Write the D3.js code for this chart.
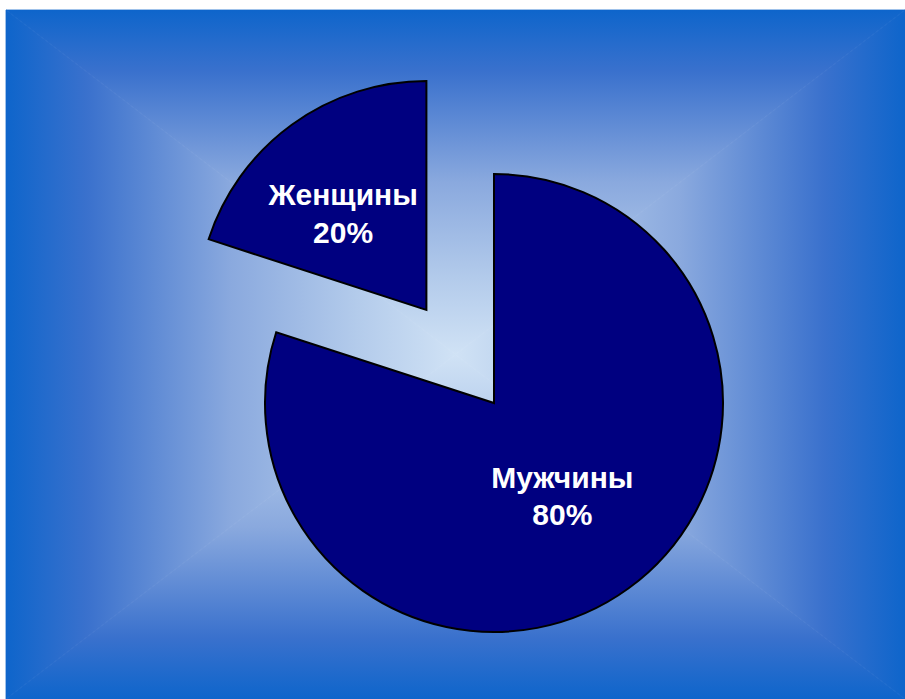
<!DOCTYPE html>
<html>
<head>
<meta charset="utf-8">
<script src="https://cdn.jsdelivr.net/npm/d3@7"></script>
<style>
  html, body { margin: 0; padding: 0; background: #ffffff; }
  svg { display: block; }
</style>
</head>
<body>
<svg id="chart" width="905" height="699"></svg>
<script>
// Gender split
const categories = ["Мужчины", "Женщины"];
const values = [80, 20];
const percentLabels = ["80%", "20%"];
const explodedIndex = 1;

const W = 905, H = 699;
const svg = d3.select("#chart");

// Panel with a rectangular (four-sided) gradient: blue edges, light centre
const panel = { x0: 6, y0: 10, x1: 905, y1: 699 };
const cx = (panel.x0 + panel.x1) / 2, cy = (panel.y0 + panel.y1) / 2;
const stops = [
  [0, "#0e65cb"], [0.18, "#3a71cd"], [0.5, "#8aa9de"], [0.78, "#b3cbeb"], [1, "#d0e2f5"]
];
const defs = svg.append("defs");
const sides = [
  { id: "gTop", pts: [[panel.x0, panel.y0], [panel.x1, panel.y0], [cx, cy]], g: [cx, panel.y0, cx, cy] },
  { id: "gBot", pts: [[panel.x0, panel.y1], [panel.x1, panel.y1], [cx, cy]], g: [cx, panel.y1, cx, cy] },
  { id: "gLeft", pts: [[panel.x0, panel.y0], [panel.x0, panel.y1], [cx, cy]], g: [panel.x0, cy, cx, cy] },
  { id: "gRight", pts: [[panel.x1, panel.y0], [panel.x1, panel.y1], [cx, cy]], g: [panel.x1, cy, cx, cy] }
];
sides.forEach(s => {
  const lg = defs.append("linearGradient").attr("id", s.id)
    .attr("gradientUnits", "userSpaceOnUse")
    .attr("x1", s.g[0]).attr("y1", s.g[1]).attr("x2", s.g[2]).attr("y2", s.g[3]);
  stops.forEach(([o, c]) => lg.append("stop").attr("offset", o).attr("stop-color", c));
});
const bg = svg.append("g");
sides.forEach(s => {
  bg.append("path")
    .attr("d", d3.line()(s.pts) + "Z")
    .attr("fill", `url(#${s.id})`)
    .attr("stroke", `url(#${s.id})`)
    .attr("stroke-width", 0.8);
});

// Pie
const center = { x: 494, y: 403 };
const radius = 229;
const explodeDist = 115;

const pie = d3.pie().sort(null).value(d => d.value);
const arcs = pie(categories.map((c, i) => ({ name: c, value: values[i], pct: percentLabels[i] })));
const arc = d3.arc().innerRadius(0).outerRadius(radius);

const g = svg.append("g").attr("transform", `translate(${center.x},${center.y})`);

const slices = g.selectAll("g.slice").data(arcs).join("g")
  .attr("class", "slice")
  .attr("transform", (d, i) => {
    if (i !== explodedIndex) return null;
    const a = (d.startAngle + d.endAngle) / 2;
    return `translate(${Math.sin(a) * explodeDist},${-Math.cos(a) * explodeDist})`;
  });

slices.append("path")
  .attr("d", arc)
  .attr("fill", "#000080")
  .attr("stroke", "#000000")
  .attr("stroke-width", 2)
  .attr("stroke-linejoin", "miter");

// Labels near each slice centroid
const labelNudge = [[1, 0], [-16, -4]];
const label = slices.append("text")
  .attr("transform", (d, i) => {
    const [x, y] = arc.centroid(d);
    return `translate(${x + labelNudge[i][0]},${y + labelNudge[i][1]})`;
  })
  .attr("text-anchor", "middle")
  .attr("fill", "#ffffff")
  .style("font-family", "'Liberation Sans', Arial, sans-serif")
  .style("font-weight", "bold")
  .style("font-size", "30px");

label.append("tspan").attr("x", 0).attr("y", -8).text(d => d.data.name);
label.append("tspan").attr("x", 0).attr("y", 29.5).text(d => d.data.pct);
</script>
</body>
</html>
